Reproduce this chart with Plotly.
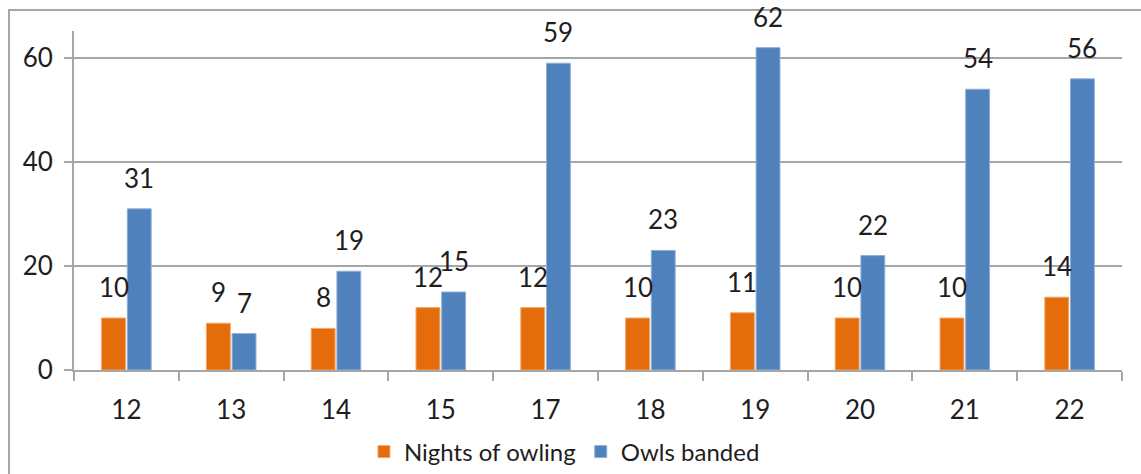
import plotly.graph_objects as go

# Season labels (year suffix) along the x axis
seasons = ["12", "13", "14", "15", "17", "18", "19", "20", "21", "22"]
nights_of_owling = [10, 9, 8, 12, 12, 10, 11, 10, 10, 14]
owls_banded = [31, 7, 19, 15, 59, 23, 62, 22, 54, 56]
y_ticks = [0, 20, 40, 60]

ORANGE = "#E46C0A"
BLUE = "#4F81BD"
GRID = "#A6A6A6"
TEXT = "#1E1E1E"
FONT = "Lato"

W, H = 1141, 474
M = dict(l=74, r=19, t=31, b=104, autoexpand=False)
BARGAP, BARGROUPGAP = 0.51, 0.07
Y_MAX = 65.2

fig = go.Figure()
fig.add_bar(x=seasons, y=nights_of_owling, name="Nights of owling",
            marker=dict(color=ORANGE, line=dict(color="#F3A66A", width=1)))
fig.add_bar(x=seasons, y=owls_banded, name="Owls banded",
            marker=dict(color=BLUE, line=dict(color="#8FB0D8", width=1)))

# Value labels sit a fixed distance above each bar, centred on it.
# Category axes place annotations by category index.
plot_w = W - M["l"] - M["r"]
cat_w = plot_w / len(seasons)
slot_w = cat_w * (1 - BARGAP) / 2
for series, sign in ((nights_of_owling, -1), (owls_banded, 1)):
    for idx, v in enumerate(series):
        fig.add_annotation(x=idx, y=v, xref="x", yref="y", text=str(v),
                           showarrow=False,
                           xshift=sign * slot_w / 2, yshift=31,
                           yanchor="middle", xanchor="center",
                           font=dict(family=FONT, size=26, color=TEXT))

# Outer chart frame
plot_h = H - M["t"] - M["b"]
fig.add_shape(type="rect", xref="paper", yref="paper",
              x0=(9 - M["l"]) / plot_w, x1=(W + 20 - M["l"]) / plot_w,
              y0=-(H + 20 - (H - M["b"])) / plot_h,
              y1=((H - M["b"]) - 10) / plot_h,
              line=dict(color=GRID, width=2), fillcolor="rgba(0,0,0,0)",
              layer="below")

fig.update_layout(
    width=W, height=H, margin=M,
    paper_bgcolor="white", plot_bgcolor="white",
    barmode="group", bargap=BARGAP, bargroupgap=BARGROUPGAP,
    font=dict(family=FONT, size=26, color=TEXT),
    showlegend=True,
    legend=dict(orientation="h", x=0.468, xanchor="center",
                y=(H - M["b"] - 452) / plot_h, yanchor="middle",
                font=dict(family=FONT, size=24, color=TEXT),
                itemwidth=30, traceorder="normal"),
    xaxis=dict(type="category", showline=True, linecolor=GRID, linewidth=2,
               ticks="outside", tickson="boundaries", ticklen=9,
               tickcolor=GRID, tickwidth=2, showgrid=False,
               ticklabelstandoff=16,
               range=[-0.5, len(seasons) - 0.5],
               tickfont=dict(family=FONT, size=26, color=TEXT)),
    yaxis=dict(range=[0, Y_MAX], tickvals=y_ticks, showline=True,
               linecolor=GRID, linewidth=2, ticks="outside", ticklen=8,
               tickcolor=GRID, tickwidth=2, showgrid=True, gridcolor=GRID,
               gridwidth=2, zeroline=False, ticklabelstandoff=6,
               tickfont=dict(family=FONT, size=26, color=TEXT)),
)

fig.write_html("out.html")
